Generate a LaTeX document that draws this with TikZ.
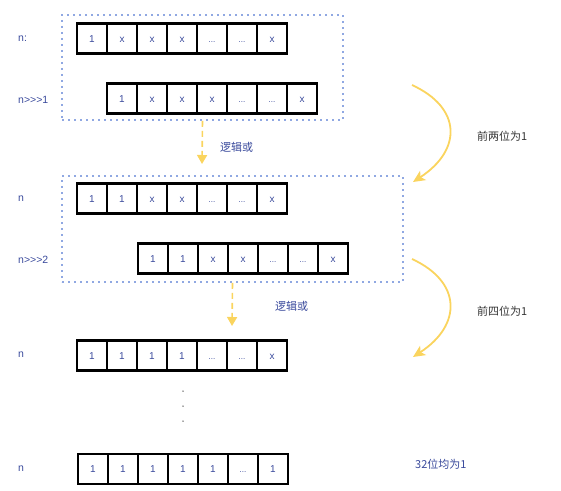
\documentclass[tikz,border=0pt]{standalone}
\usepackage{fontspec}
\setmainfont{Liberation Sans}
\newfontfamily\cjk{Noto Sans CJK SC}
\usetikzlibrary{arrows.meta}
\definecolor{txtblue}{HTML}{3A4A9C}
\definecolor{dotblue}{HTML}{90A8E2}
\definecolor{arrowyellow}{HTML}{FAD45E}
\definecolor{darktxt}{HTML}{333333}
\newcommand\celldots{{\fontsize{8}{10}\selectfont...}}
\begin{document}
\begin{tikzpicture}[x=1pt,y=-1pt,
  cell/.style={draw=black,line width=2.4pt,minimum width=30pt,minimum height=30pt,
    inner sep=0pt,text height=7.2pt,text depth=0pt,
    font=\fontsize{10}{12}\selectfont,text=txtblue},
  rowlabel/.style={anchor=west,inner sep=0pt,font=\fontsize{10.5}{12}\selectfont,text=txtblue},
  cjklabel/.style={anchor=west,inner sep=0pt,font=\cjk\fontsize{11}{13}\selectfont,text=txtblue},
  sidelabel/.style={anchor=west,inner sep=0pt,font=\cjk\fontsize{11}{13}\selectfont,text=darktxt},
  dotbox/.style={draw=dotblue,line width=1.6pt,dash pattern=on 1.6pt off 4.4pt,inner sep=0pt},
  orarrow/.style={draw=arrowyellow,line width=1.6pt,dash pattern=on 6pt off 4pt,
    -{Triangle[length=9pt,width=10pt,fill=arrowyellow]}},
  curvearrow/.style={draw=arrowyellow,line width=1.8pt,
    -{Stealth[length=12pt,width=11pt,inset=3pt,fill=arrowyellow]}},
  dotmark/.style={circle,fill=black!70,inner sep=0pt,minimum size=1.5pt}
]
\useasboundingbox (0,0) rectangle (561,490);

% dotted boxes
\node[dotbox,minimum width=281pt,minimum height=105pt] (box1) at (202.5,67.5) {};
\node[dotbox,minimum width=341pt,minimum height=106pt] (box2) at (232.5,229) {};

% rows of cells
\foreach \t [count=\i] in {1,x,x,x,\celldots,\celldots,x}
  \node[cell] (a\i) at (77+30*\i-15,38.5) {\t};
\foreach \t [count=\i] in {1,x,x,x,\celldots,\celldots,x}
  \node[cell] (b\i) at (107+30*\i-15,98.5) {\t};
\foreach \t [count=\i] in {1,1,x,x,\celldots,\celldots,x}
  \node[cell] (c\i) at (77+30*\i-15,198.5) {\t};
\foreach \t [count=\i] in {1,1,x,x,\celldots,\celldots,x}
  \node[cell] (d\i) at (138+30*\i-15,258.5) {\t};
\foreach \t [count=\i] in {1,1,1,1,\celldots,\celldots,x}
  \node[cell] (e\i) at (77+30*\i-15,355.5) {\t};
\foreach \t [count=\i] in {1,1,1,1,1,\celldots,1}
  \node[cell] (f\i) at (78+30*\i-15,469) {\t};

% row labels
\node[rowlabel] (la) at (18,39) {n:};
\node[rowlabel] (lb) at (18,100) {n>{}>{}>1};
\node[rowlabel] (lc) at (18,199) {n};
\node[rowlabel] (ld) at (18,260) {n>{}>{}>2};
\node[rowlabel] (le) at (18,355) {n};
\node[rowlabel] (lf) at (18,469) {n};

% vertical dots
\node[dotmark] (v1) at (183,391) {};
\node[dotmark] (v2) at (183,406) {};
\node[dotmark] (v3) at (183,421) {};

% dashed "or" arrows
\coordinate (or1end) at (202,164);
\coordinate (or2end) at (232,326);
\draw[orarrow] (box1.south) -- (or1end);
\draw[orarrow] (box2.south) -- (or2end);
\node[cjklabel] (or1) at (220,147) {逻辑或};
\node[cjklabel] (or2) at (275,306) {逻辑或};

% curved arrows
\coordinate (c1s) at (412,85);
\coordinate (c1e) at (413,182);
\coordinate (c2s) at (412,259);
\coordinate (c2e) at (413,357);
\draw[curvearrow] (c1s) .. controls (462,108) and (462,150) .. (c1e);
\draw[curvearrow] (c2s) .. controls (462,282) and (462,325) .. (c2e);
\node[sidelabel] (s1) at (477,136) {前两位为1};
\node[sidelabel] (s2) at (477,311) {前四位为1};
\node[cjklabel] (s3) at (415,464) {32位均为1};
\end{tikzpicture}
\end{document}
